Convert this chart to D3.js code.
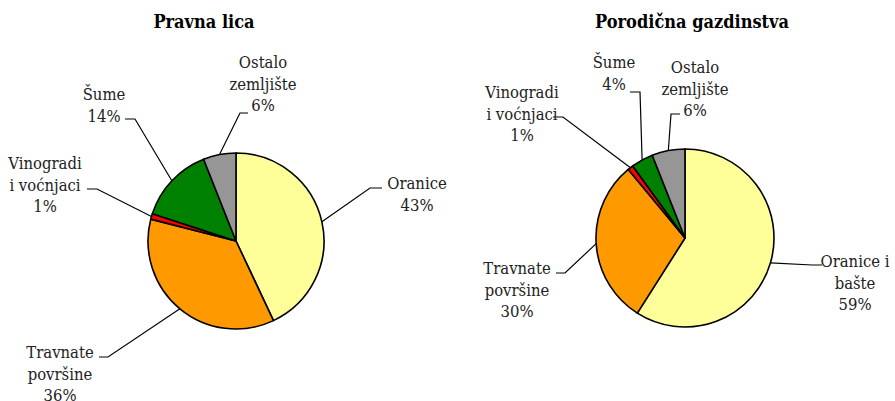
<!DOCTYPE html>
<html>
<head>
<meta charset="utf-8">
<script src="https://cdn.jsdelivr.net/npm/d3@7"></script>
<style>
  html, body { margin: 0; padding: 0; background: #fff; }
  svg { display: block; }
</style>
</head>
<body>
<svg id="chart" width="895" height="401"></svg>
<script>
// Land use categories (clockwise from 12 o'clock)
const categoriesPravna = ["Oranice", "Travnate površine", "Vinogradi i voćnjaci", "Šume", "Ostalo zemljište"];
const valuesPravna = [43, 36, 1, 14, 6];

const categoriesPorodicna = ["Oranice i bašte", "Travnate površine", "Vinogradi i voćnjaci", "Šume", "Ostalo zemljište"];
const valuesPorodicna = [59, 30, 1, 4, 6];

const titles = ["Pravna lica", "Porodična gazdinstva"];

// Label lines as drawn (category wording wraps onto several lines)
const labelLinesPravna = [["Oranice"], ["Travnate", "površine"], ["Vinogradi", "i voćnjaci"], ["Šume"], ["Ostalo", "zemljište"]];
const labelLinesPorodicna = [["Oranice i", "bašte"], ["Travnate", "površine"], ["Vinogradi", "i voćnjaci"], ["Šume"], ["Ostalo", "zemljište"]];

const sliceColors = ["#FFFF99", "#FF9900", "#FF0000", "#008000", "#969696"];

const fontStack = "'DejaVu Serif Condensed', 'DejaVu Serif', serif";

// Layout: pie centres, radius, label anchors and leader elbows
const layout = [
  {
    cx: 236, cy: 241, r: 88, titleX: 204,
    labels: [
      { x: 417, y: 183, e1: [382, 188], e2: [370, 188] },
      { x: 60,  y: 352, e1: [99, 357],  e2: [108, 357] },
      { x: 45,  y: 163, e1: [87, 189],  e2: [97, 189] },
      { x: 104, y: 94,  e1: [125, 119], e2: [135, 119] },
      { x: 263, y: 62,  e1: [248, 113], e2: [240, 113] }
    ]
  },
  {
    cx: 685, cy: 238, r: 89, titleX: 692,
    labels: [
      { x: 855, y: 261, e1: [822, 265], e2: [812, 265] },
      { x: 517, y: 268, e1: [556, 273], e2: [565, 273] },
      { x: 522, y: 92,  e1: [553, 117], e2: [563, 117] },
      { x: 614, y: 62,  e1: [630, 92],  e2: [640, 92] },
      { x: 695, y: 67,  e1: [680, 114], e2: [671, 114] }
    ]
  }
];

const charts = [
  { cats: categoriesPravna, vals: valuesPravna, lines: labelLinesPravna },
  { cats: categoriesPorodicna, vals: valuesPorodicna, lines: labelLinesPorodicna }
];

const svg = d3.select("#chart");
const lineStep = 21.5;

charts.forEach((c, ci) => {
  const L = layout[ci];
  const data = c.cats.map((name, i) => ({ name, value: c.vals[i], lines: c.lines[i], color: sliceColors[i] }));

  // Title
  svg.append("text")
    .attr("x", L.titleX)
    .attr("y", 28)
    .attr("text-anchor", "middle")
    .style("font-family", fontStack)
    .style("font-stretch", "condensed")
    .style("font-size", "18px")
    .style("font-weight", "bold")
    .style("fill", "#000")
    .text(titles[ci]);

  const pie = d3.pie().sort(null).value(d => d.value);
  const arcs = pie(data);
  const arc = d3.arc().innerRadius(0).outerRadius(L.r);

  const g = svg.append("g").attr("transform", `translate(${L.cx},${L.cy})`);

  g.selectAll("path")
    .data(arcs)
    .join("path")
    .attr("d", arc)
    .attr("fill", d => d.data.color)
    .attr("stroke", "#000")
    .attr("stroke-width", 1.6)
    .attr("stroke-linejoin", "round");

  // Leader lines from each slice's outer mid-point to its label
  arcs.forEach((a, i) => {
    const lab = L.labels[i];
    const mid = (a.startAngle + a.endAngle) / 2;
    const px = L.cx + L.r * Math.sin(mid);
    const py = L.cy - L.r * Math.cos(mid);
    svg.append("path")
      .attr("d", d3.line()([lab.e1, lab.e2, [px, py]]))
      .attr("fill", "none")
      .attr("stroke", "#000")
      .attr("stroke-width", 1.2);

    const t = svg.append("text")
      .attr("text-anchor", "middle")
      .style("font-family", fontStack)
      .style("font-stretch", "condensed")
      .style("font-size", "16.5px")
      .style("fill", "#222");
    const allLines = a.data.lines.concat([d3.format(".0f")(a.data.value) + "%"]);
    allLines.forEach((ln, k) => {
      t.append("tspan")
        .attr("x", lab.x)
        .attr("y", lab.y + 6 + k * lineStep)
        .text(ln);
    });
  });
});
</script>
</body>
</html>
